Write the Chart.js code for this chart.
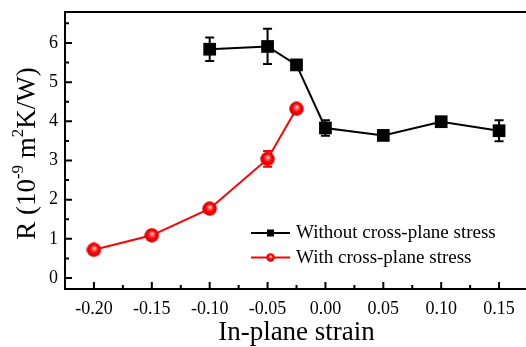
<!DOCTYPE html>
<html>
<head>
<meta charset="utf-8">
<script src="https://cdn.jsdelivr.net/npm/chart.js@4.4.1/dist/chart.umd.min.js"></script>
<style>
  html, body { margin: 0; padding: 0; background: #fff; overflow: hidden; }
</style>
</head>
<body>
<canvas id="chart" width="530" height="347"></canvas>
<script>
// data
const strainA = [-0.10, -0.05, -0.025, 0.00, 0.05, 0.10, 0.15];
const withoutStress = [5.84, 5.91, 5.44, 3.83, 3.64, 3.99, 3.76];
const withoutErr = [0.30, 0.45, 0.08, 0.20, 0.08, 0.10, 0.27];
const strainB = [-0.20, -0.15, -0.10, -0.05, -0.025];
const withStress = [0.72, 1.09, 1.77, 3.04, 4.32];
const withErr = [0.05, 0.05, 0.08, 0.20, 0.08];
const xTicks = [-0.20, -0.15, -0.10, -0.05, 0.00, 0.05, 0.10, 0.15];
const yTicks = [0, 1, 2, 3, 4, 5, 6];
const seriesNames = ["Without cross-plane stress", "With cross-plane stress"];
const xTitle = "In-plane strain";

const FONT = "'Liberation Serif', 'Times New Roman', serif";
const RED = "#ff0000";

function sphere(d) {
  const c = document.createElement("canvas");
  c.width = d; c.height = d;
  const g = c.getContext("2d");
  const r = d / 2;
  const grad = g.createRadialGradient(r * 1.05, r * 0.75, 0, r, r, r);
  grad.addColorStop(0, "#ffffff");
  grad.addColorStop(0.22, "#ff7070");
  grad.addColorStop(0.55, "#ff0000");
  grad.addColorStop(1, "#d40000");
  g.fillStyle = grad;
  g.beginPath();
  g.arc(r, r, r - 0.3, 0, Math.PI * 2);
  g.fill();
  return c;
}

function toPoints(xs, ys) {
  return xs.map((x, i) => ({ x: x, y: ys[i] }));
}

// kill the auto padding chart.js adds for edge labels
function noPad(s) {
  s.paddingLeft = 0; s.paddingRight = 0; s.paddingTop = 0; s.paddingBottom = 0;
}

const errSets = [
  { xs: strainA, ys: withoutStress, err: withoutErr, color: "#000" },
  { xs: strainB, ys: withStress, err: withErr, color: RED }
];

const decor = {
  id: "decor",
  beforeDatasetsDraw(chart) {
    const ctx = chart.ctx, sx = chart.scales.x, sy = chart.scales.y;
    ctx.save();
    ctx.lineWidth = 2;
    errSets.forEach(s => {
      ctx.strokeStyle = s.color;
      s.xs.forEach((x, i) => {
        const px = sx.getPixelForValue(x);
        const top = sy.getPixelForValue(s.ys[i] + s.err[i]);
        const bot = sy.getPixelForValue(s.ys[i] - s.err[i]);
        ctx.beginPath();
        ctx.moveTo(px, top); ctx.lineTo(px, bot);
        ctx.moveTo(px - 4.5, top); ctx.lineTo(px + 4.5, top);
        ctx.moveTo(px - 4.5, bot); ctx.lineTo(px + 4.5, bot);
        ctx.stroke();
      });
    });
    ctx.restore();
  },
  afterDraw(chart) {
    const ctx = chart.ctx, sx = chart.scales.x, sy = chart.scales.y;
    const a = chart.chartArea;
    ctx.save();
    ctx.strokeStyle = "#000";
    ctx.lineWidth = 2;
    // top frame line
    ctx.beginPath();
    ctx.moveTo(a.left - 1, a.top);
    ctx.lineTo(a.right + 2, a.top);
    ctx.stroke();
    // inward tick marks, major and minor
    ctx.beginPath();
    xTicks.forEach(v => {
      const p = sx.getPixelForValue(v);
      ctx.moveTo(p, a.bottom); ctx.lineTo(p, a.bottom - 7);
      const m = sx.getPixelForValue(v + 0.025);
      ctx.moveTo(m, a.bottom); ctx.lineTo(m, a.bottom - 4);
    });
    yTicks.forEach(v => {
      const p = sy.getPixelForValue(v);
      ctx.moveTo(a.left, p); ctx.lineTo(a.left + 7, p);
      const m = sy.getPixelForValue(v + 0.5);
      ctx.moveTo(a.left, m); ctx.lineTo(a.left + 4, m);
    });
    ctx.stroke();

    // y title with superscripts
    const parts = [
      ["R (10", false], ["-9", true], [" m", false], ["2", true], ["K/W)", false]
    ];
    const big = "27px " + FONT, small = "17px " + FONT;
    let total = 0;
    parts.forEach(p => { ctx.font = p[1] ? small : big; total += ctx.measureText(p[0]).width; });
    ctx.translate(28, (a.top + a.bottom) / 2 + 3);
    ctx.rotate(-Math.PI / 2);
    ctx.fillStyle = "#000";
    ctx.textBaseline = "middle";
    let cx = -total / 2;
    parts.forEach(p => {
      ctx.font = p[1] ? small : big;
      ctx.fillText(p[0], cx, p[1] ? -9 : 0);
      cx += ctx.measureText(p[0]).width;
    });
    ctx.setTransform(1, 0, 0, 1, 0, 0);

    // x title
    ctx.font = "27px " + FONT;
    ctx.textAlign = "center";
    ctx.textBaseline = "middle";
    ctx.fillText(xTitle, (a.left + a.right) / 2, 333);

    // legend
    const lx = a.left + 186;
    const rows = [a.bottom - 56, a.bottom - 31.5];
    const dots = [null, sphere(9)];
    ctx.textAlign = "left";
    ctx.font = "19px " + FONT;
    rows.forEach((ry, i) => {
      const col = i === 0 ? "#000" : RED;
      ctx.strokeStyle = col;
      ctx.lineWidth = 2;
      ctx.beginPath();
      ctx.moveTo(lx, ry); ctx.lineTo(lx + 39, ry);
      ctx.stroke();
      if (dots[i]) {
        ctx.drawImage(dots[i], lx + 19.5 - 4.5, ry - 4.5);
      } else {
        ctx.fillStyle = "#000";
        ctx.fillRect(lx + 19.5 - 3.5, ry - 3.5, 7, 7);
      }
      ctx.fillStyle = "#000";
      ctx.fillText(seriesNames[i], lx + 45, ry + 0.5);
    });
    ctx.restore();
  }
};

new Chart(document.getElementById("chart"), {
  type: "line",
  data: {
    datasets: [
      {
        label: seriesNames[0],
        data: toPoints(strainA, withoutStress),
        borderColor: "#000",
        backgroundColor: "#000",
        borderWidth: 2,
        pointStyle: "rect",
        pointRadius: 9,
        pointBorderWidth: 0,
        tension: 0
      },
      {
        label: seriesNames[1],
        data: toPoints(strainB, withStress),
        borderColor: RED,
        backgroundColor: RED,
        borderWidth: 2,
        pointStyle: sphere(15),
        pointRadius: 7,
        tension: 0
      }
    ]
  },
  options: {
    responsive: false,
    animation: false,
    devicePixelRatio: 1,
    layout: { autoPadding: false, padding: { top: 12, right: 2, left: 0, bottom: 0 } },
    plugins: { legend: { display: false }, tooltip: { enabled: false } },
    scales: {
      x: {
        type: "linear",
        min: -0.225,
        max: 0.175,
        afterBuildTicks: s => { s.ticks = xTicks.map(v => ({ value: v })); },
        afterFit: s => { s.height = 58; noPad(s); },
        grid: { display: false, drawTicks: false },
        border: { color: "#000", width: 2 },
        ticks: {
          color: "#000",
          padding: 9,
          maxRotation: 0,
          font: { family: FONT, size: 18 },
          callback: v => v.toFixed(2)
        }
      },
      y: {
        type: "linear",
        min: -0.28,
        max: 6.79,
        afterBuildTicks: s => { s.ticks = yTicks.map(v => ({ value: v })); },
        afterFit: s => { s.width = 65; noPad(s); },
        grid: { display: false, drawTicks: false },
        border: { color: "#000", width: 2 },
        ticks: {
          color: "#000",
          padding: 7,
          font: { family: FONT, size: 18 },
          callback: v => String(v)
        }
      }
    }
  },
  plugins: [decor]
});
</script>
</body>
</html>
